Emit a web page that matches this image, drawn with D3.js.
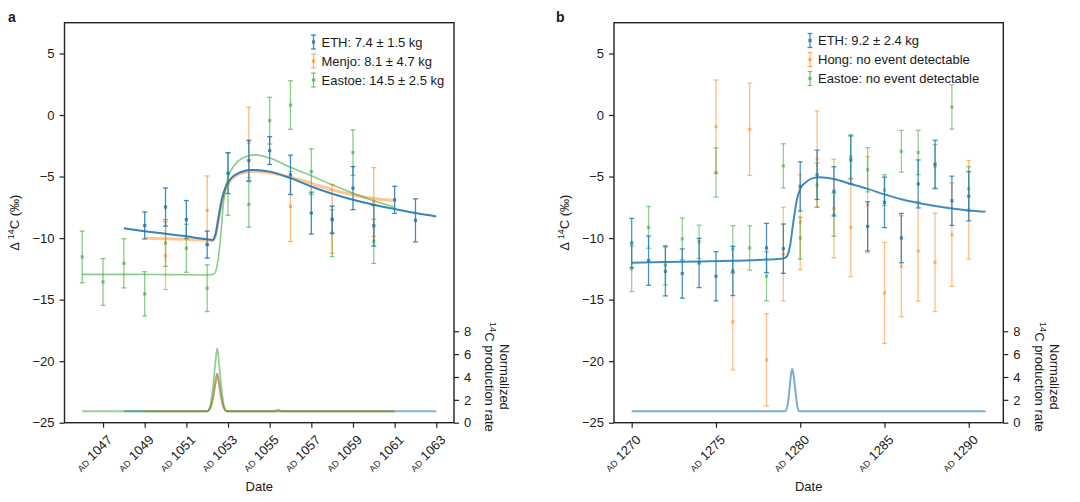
<!DOCTYPE html>
<html><head><meta charset="utf-8">
<script src="https://cdn.jsdelivr.net/npm/d3@7"></script>
<style>
body{margin:0;background:#fff}
svg{display:block}
text{font-family:"Liberation Sans",Arial,Helvetica,sans-serif;fill:#1a1a1a}
</style></head><body>
<svg id="c" width="1080" height="502"></svg>
<script>
// ---------- tick labels ----------
const yTicks = [-25, -20, -15, -10, -5, 0, 5];
const rateTicks = [0, 2, 4, 6, 8];
const aTickYears = [1047, 1049, 1051, 1053, 1055, 1057, 1059, 1061, 1063];
const bTickYears = [1270, 1275, 1280, 1285, 1290];

// ---------- panel a : measurements ----------
const aEthYear = [1049,1050,1051,1052,1053,1054,1055,1056,1057,1058,1059,1060,1061,1062];
const aEthVal  = [-8.97,-7.48,-8.5,-10.53,-4.73,-3.7,-2.89,-4.86,-7.97,-8.5,-5.94,-9.0,-6.89,-8.56];
const aEthErr  = [1.1,1.55,1.55,1.1,1.65,1.65,1.13,1.6,1.7,1.1,1.75,1.65,1.1,1.75];

const aMenjoYear = [1050,1052,1054,1056,1058,1060];
const aMenjoVal  = [-11.43,-7.75,-2.24,-7.43,-8.43,-7.07];
const aMenjoErr  = [2.75,2.8,2.86,2.85,2.8,2.8];

const aEastoeYear = [1046,1047,1048,1049,1050,1051,1052,1053,1054,1055,1056,1057,1058,1059,1060];
const aEastoeVal  = [-11.53,-13.56,-12.05,-14.53,-10.4,-10.83,-14.07,-5.6,-7.27,-0.46,0.81,-4.6,-9.6,-3.05,-10.26];
const aEastoeErr  = [2.1,1.9,2.0,1.8,1.9,1.95,1.9,2.55,1.85,1.9,1.97,1.85,1.9,1.85,1.8];

// ---------- panel a : model curves ----------
const aEthFitYear = [1048,1049,1050,1051,1052,1052.25,1052.4,1052.55,1052.7,1052.9,1053.2,1053.6,1054.1,1054.5,1055,1056,1057,1058,1059,1060,1061,1062,1063];
const aEthFitVal  = [-9.2,-9.45,-9.65,-9.86,-10.1,-10.15,-9.7,-8.3,-6.9,-5.8,-5.05,-4.65,-4.46,-4.48,-4.6,-5.13,-5.81,-6.4,-6.89,-7.29,-7.64,-7.97,-8.24];
const aMenjoFitYear = [1049,1050,1051,1052,1052.25,1052.4,1052.55,1052.7,1052.9,1053.2,1053.6,1054.1,1054.5,1055,1056,1057,1058,1059,1060,1061];
const aMenjoFitVal  = [-10.0,-10.05,-10.1,-10.15,-10.2,-9.8,-8.4,-7.0,-5.9,-5.15,-4.75,-4.58,-4.6,-4.7,-5.05,-5.54,-6.08,-6.48,-6.78,-6.94];
const aEastoeFitYear = [1046,1048,1050,1052,1052.35,1052.5,1052.6,1052.8,1053.0,1053.3,1053.7,1054.3,1055,1056,1057,1058,1059,1060,1061];
const aEastoeFitVal  = [-12.95,-12.95,-12.97,-13.0,-12.9,-12.0,-10.7,-6.9,-5.1,-4.1,-3.5,-3.24,-3.5,-4.25,-4.94,-5.67,-6.35,-6.97,-7.48];

// production rate (right axis)
const aEthProdYear = [1048,1052.0,1052.15,1052.3,1052.4,1052.48,1052.56,1052.66,1052.8,1052.95,1063];
const aEthProdVal  = [1,1,1.3,2.4,3.6,4.3,3.6,2.4,1.3,1,1];
const aMenjoProdYear = [1049,1052.0,1052.15,1052.3,1052.4,1052.48,1052.56,1052.66,1052.8,1052.95,1061];
const aMenjoProdVal  = [1,1,1.3,2.3,3.5,4.15,3.5,2.3,1.3,1,1];
const aEastoeProdYear = [1046,1052.0,1052.15,1052.3,1052.4,1052.48,1052.56,1052.66,1052.8,1052.95,1055.2,1055.4,1055.6,1061];
const aEastoeProdVal  = [1,1,1.5,3.5,5.4,6.5,5.4,3.5,1.5,1,1,1.15,1,1];

// ---------- panel b : measurements ----------
const bEthYear = [1270,1271,1272,1273,1274,1275,1276,1278,1279,1280,1281,1282,1283,1284,1285,1286,1287,1288,1289,1290];
const bEthVal  = [-10.4,-11.83,-12.7,-12.88,-12.02,-13.1,-12.67,-10.8,-10.86,-5.8,-4.86,-6.2,-3.65,-9.05,-7.1,-10.0,-5.6,-4.0,-6.97,-6.6];
const bEthErr  = [2.0,2.0,2.0,2.0,2.0,2.0,2.0,2.0,2.0,2.0,2.0,2.0,1.95,2.0,2.05,2.0,1.95,1.95,2.0,2.0];

const bHongYear = [1275,1276,1277,1278,1279,1280,1281,1282,1283,1284,1285,1286,1287,1288,1289,1290];
const bHongVal  = [-0.95,-16.8,-1.16,-19.9,-11.3,-8.7,-3.57,-7.6,-9.13,-7.29,-14.45,-12.29,-11.07,-11.97,-9.72,-7.7];
const bHongErr  = [3.8,3.9,3.75,3.75,3.8,3.85,3.9,4.0,4.0,3.9,4.1,4.1,4.05,4.0,4.2,4.0];

const bEastoeYear = [1270,1271,1272,1273,1274,1275,1276,1277,1278,1279,1280,1281,1282,1283,1284,1285,1286,1287,1288,1289,1290];
const bEastoeVal  = [-12.5,-9.13,-12.2,-10.07,-10.3,-4.67,-10.89,-10.8,-13.1,-4.13,-10.0,-5.7,-8.1,-3.4,-4.45,-6.1,-2.95,-3.05,-4.2,0.65,-6.0];
const bEastoeErr  = [1.85,1.7,1.6,1.7,1.35,2.0,1.9,1.8,2.0,1.8,1.7,1.8,1.75,1.8,1.8,1.25,1.7,1.8,1.8,1.8,1.8];

const bEthFitYear = [1270,1272,1274,1276,1278,1279,1279.2,1279.4,1279.6,1279.8,1280,1280.3,1280.7,1281.2,1282,1283,1284,1285,1286,1287,1288,1289,1290,1291];
const bEthFitVal  = [-12.0,-11.95,-11.9,-11.85,-11.75,-11.65,-11.5,-10.6,-8.6,-6.9,-6.0,-5.5,-5.15,-5.05,-5.2,-5.6,-6.0,-6.45,-6.85,-7.15,-7.4,-7.6,-7.75,-7.85];
const bEthProdYear = [1270,1279.1,1279.25,1279.37,1279.45,1279.52,1279.6,1279.7,1279.82,1279.95,1291];
const bEthProdVal  = [1,1,1.5,3.0,4.2,4.7,4.2,3.0,1.5,1,1];

// ---------- drawing ----------
const C = {blue:"#1f77b4", orange:"#ff7f0e", green:"#2ca02c"};
const svg = d3.select("#c");
const TOP = 22.7, BOT = 422.7;
const y  = d3.scaleLinear().domain([-25, 7.5]).range([BOT, TOP]);
const yr = d3.scaleLinear().domain([0, 35]).range([BOT, TOP]);
const minus = d => d < 0 ? "\u2212" + Math.abs(d) : String(d);

function zip(xs, vs, es){ return xs.map((d,i)=>({x:d, v:vs[i], e: es ? es[i] : 0})); }

function errorbars(g, x, data, color, op){
  const s = g.append("g").attr("stroke", color).attr("stroke-opacity", op).attr("stroke-width", 1.3);
  data.forEach(d=>{
    const X = x(d.x);
    s.append("line").attr("x1",X).attr("x2",X).attr("y1",y(d.v+d.e)).attr("y2",y(d.v-d.e));
    s.append("line").attr("x1",X-2.5).attr("x2",X+2.5).attr("y1",y(d.v+d.e)).attr("y2",y(d.v+d.e));
    s.append("line").attr("x1",X-2.5).attr("x2",X+2.5).attr("y1",y(d.v-d.e)).attr("y2",y(d.v-d.e));
  });
  g.append("g").selectAll("rect").data(data).join("rect")
    .attr("x", d=>x(d.x)-1.6).attr("y", d=>y(d.v)-1.6).attr("width",3.2).attr("height",3.2)
    .attr("fill", color).attr("fill-opacity", op);
}

function curve(g, x, sy, xs, vs, color, w, op){
  const line = d3.line().x(d=>x(d.x)).y(d=>sy(d.v)).curve(d3.curveMonotoneX);
  g.append("path").datum(zip(xs, vs)).attr("d", line).attr("fill","none")
    .attr("stroke", color).attr("stroke-width", w).attr("stroke-opacity", op);
}

function frame(g, x, L, R, ticks, ylabX, rlabX, legend){
  const ax = g.append("g").attr("transform",`translate(${L},0)`)
    .call(d3.axisLeft(y).tickValues(yTicks).tickSize(5).tickPadding(5).tickFormat(minus));
  ax.select(".domain").remove();
  ax.selectAll("line").attr("stroke","#222").attr("stroke-width",1.2);
  ax.selectAll("text").attr("font-size",13).attr("fill","#1a1a1a");
  const ar = g.append("g").attr("transform",`translate(${R},0)`)
    .call(d3.axisRight(yr).tickValues(rateTicks).tickSize(5).tickPadding(5));
  ar.select(".domain").remove();
  ar.selectAll("line").attr("stroke","#222").attr("stroke-width",1.2);
  ar.selectAll("text").attr("font-size",13).attr("fill","#1a1a1a");
  const ab = g.append("g").attr("transform",`translate(0,${BOT})`)
    .call(d3.axisBottom(x).tickValues(ticks).tickSize(5).tickFormat(""));
  ab.select(".domain").remove();
  ab.selectAll("line").attr("stroke","#222").attr("stroke-width",1.2);
  ticks.forEach(t=>{
    const tx = g.append("text").attr("text-anchor","end")
      .attr("transform",`translate(${x(t)+10},${BOT+18}) rotate(-45)`).attr("font-size",13);
    tx.append("tspan").attr("font-size",9).text("AD");
    tx.append("tspan").text("\u00a0" + t);
  });
  g.append("rect").attr("x",L).attr("y",TOP).attr("width",R-L).attr("height",BOT-TOP)
    .attr("fill","none").attr("stroke","#222").attr("stroke-width",1.4);
  g.append("text").attr("x",(L+R)/2).attr("y",491).attr("text-anchor","middle").attr("font-size",13).text("Date");
  const yl = g.append("text").attr("transform",`translate(${ylabX},${(TOP+BOT)/2}) rotate(-90)`)
    .attr("text-anchor","middle").attr("font-size",13);
  yl.append("tspan").text("\u0394 ");
  yl.append("tspan").attr("font-size",9).attr("dy",-5).text("14");
  yl.append("tspan").attr("dy",5).text("C (\u2030)");
  const mid = (yr(0)+yr(8))/2;
  g.append("text").attr("transform",`translate(${rlabX+15},${mid}) rotate(90)`)
    .attr("text-anchor","middle").attr("font-size",13).text("Normalized");
  const rl = g.append("text").attr("transform",`translate(${rlabX},${mid}) rotate(90)`)
    .attr("text-anchor","middle").attr("font-size",13);
  rl.append("tspan").attr("font-size",9).attr("dy",-5).text("14");
  rl.append("tspan").attr("dy",5).text("C production rate");
  legend.items.forEach((it,i)=>{
    const ly = legend.y + i*19;
    const lg = g.append("g");
    lg.append("line").attr("x1",legend.x).attr("x2",legend.x).attr("y1",ly-7).attr("y2",ly+7)
      .attr("stroke",it.c).attr("stroke-width",1.3).attr("stroke-opacity",it.op);
    [ly-7, ly+7].forEach(cy=>lg.append("line").attr("x1",legend.x-2.5).attr("x2",legend.x+2.5)
      .attr("y1",cy).attr("y2",cy).attr("stroke",it.c).attr("stroke-width",1.3).attr("stroke-opacity",it.op));
    lg.append("rect").attr("x",legend.x-1.6).attr("y",ly-1.6).attr("width",3.2).attr("height",3.2)
      .attr("fill",it.c).attr("fill-opacity",it.op);
    lg.append("text").attr("x",legend.x+8).attr("y",ly+4.5).attr("font-size",13).text(it.t);
  });
}

// ----- panel a -----
const xA = d3.scaleLinear().domain([1045.15, 1063.85]).range([64.5, 454]);
const gA = svg.append("g");
errorbars(gA, xA, zip(aEastoeYear, aEastoeVal, aEastoeErr), C.green, 0.55);
errorbars(gA, xA, zip(aMenjoYear, aMenjoVal, aMenjoErr), C.orange, 0.55);
errorbars(gA, xA, zip(aEthYear, aEthVal, aEthErr), C.blue, 0.85);
curve(gA, xA, y, aMenjoFitYear, aMenjoFitVal, C.orange, 3, 0.45);
curve(gA, xA, y, aEthFitYear, aEthFitVal, C.blue, 2, 0.9);
curve(gA, xA, y, aEastoeFitYear, aEastoeFitVal, C.green, 1.6, 0.55);
curve(gA, xA, yr, aEthProdYear, aEthProdVal, C.blue, 2, 0.55);
curve(gA, xA, yr, aMenjoProdYear, aMenjoProdVal, C.orange, 2, 0.55);
curve(gA, xA, yr, aEastoeProdYear, aEastoeProdVal, C.green, 1.8, 0.5);
frame(gA, xA, 64.5, 454, aTickYears, 19, 485, {x:313.5, y:42, items:[
  {t:"ETH: 7.4 \u00b1 1.5 kg", c:C.blue, op:0.85},
  {t:"Menjo: 8.1 \u00b1 4.7 kg", c:C.orange, op:0.6},
  {t:"Eastoe: 14.5 \u00b1 2.5 kg", c:C.green, op:0.6}]});
svg.append("text").attr("x",8).attr("y",22).attr("font-size",14).attr("font-weight","bold").text("a");

// ----- panel b -----
const xB = d3.scaleLinear().domain([1268.95, 1292.05]).range([614, 1003.3]);
const gB = svg.append("g");
errorbars(gB, xB, zip(bHongYear, bHongVal, bHongErr), C.orange, 0.5);
errorbars(gB, xB, zip(bEastoeYear, bEastoeVal, bEastoeErr), C.green, 0.5);
errorbars(gB, xB, zip(bEthYear, bEthVal, bEthErr), C.blue, 0.8);
curve(gB, xB, y, bEthFitYear, bEthFitVal, C.blue, 2, 0.85);
curve(gB, xB, yr, bEthProdYear, bEthProdVal, C.blue, 2, 0.6);
frame(gB, xB, 614, 1003.3, bTickYears, 569, 1035, {x:810, y:40.5, items:[
  {t:"ETH: 9.2 \u00b1 2.4 kg", c:C.blue, op:0.85},
  {t:"Hong: no event detectable", c:C.orange, op:0.6},
  {t:"Eastoe: no event detectable", c:C.green, op:0.6}]});
svg.append("text").attr("x",556).attr("y",22).attr("font-size",14).attr("font-weight","bold").text("b");
</script></body></html>
